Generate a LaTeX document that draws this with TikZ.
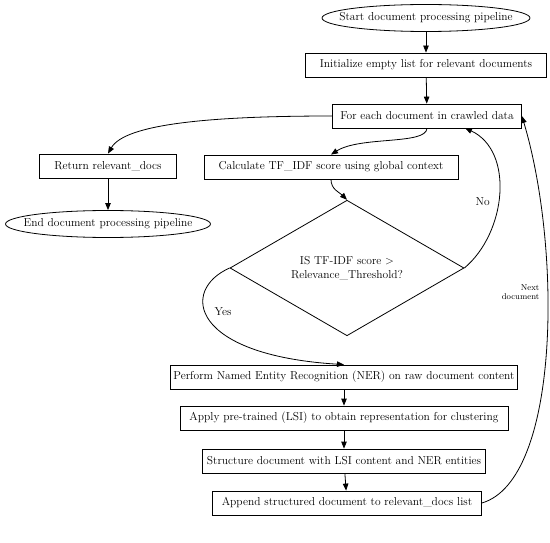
\documentclass[tikz,border=0pt]{standalone}
\usepackage{tikz}
\usetikzlibrary{shapes.geometric,arrows.meta}

\tikzset{
    proc/.style={draw, rectangle, minimum height=24pt, inner xsep=3pt, font=\fontsize{11.5}{13}\selectfont},
    term/.style={draw, ellipse, minimum height=27pt, inner xsep=-14pt, inner ysep=2pt, font=\fontsize{11.5}{13}\selectfont},
    decide/.style={draw, diamond, minimum width=234pt, minimum height=133pt, inner sep=0pt, align=center, font=\fontsize{11.5}{14}\selectfont},
    flow/.style={-{Triangle[length=7pt,width=5.5pt]}},
    lbl/.style={font=\fontsize{11.5}{13}\selectfont},
}

\begin{document}
\begin{tikzpicture}[x=1pt, y=-1pt, line width=0.8pt]
        \useasboundingbox (0,0) rectangle (550,543);
        %nodes
            \node[term, minimum width=208pt] (start) at (426,18) {Start document processing pipeline};
            \node[proc, minimum width=241pt] (init) at (426,65) {Initialize empty list for relevant documents};
            \node[proc, minimum width=189pt] (each) at (427,116) {For each document in crawled data};
            \node[proc, minimum width=137pt] (ret) at (108,166) {Return relevant\_docs};
            \node[term, minimum width=205pt] (stop) at (108,224) {End document processing pipeline};
            \node[proc, minimum width=254pt] (tfidf) at (331,167) {Calculate TF\_IDF score using global context};
            \node[decide] (check) at (347,268) {IS TF-IDF score >\\Relevance\_Threshold?};
            \node[proc, minimum width=347pt] (ner) at (344,377) {Perform Named Entity Recognition (NER) on raw document content};
            \node[proc, minimum width=328pt] (lsi) at (344,418) {Apply pre-trained (LSI) to obtain representation for clustering};
            \node[proc, minimum width=283pt] (struct) at (344,461) {Structure document with LSI content and NER entities};
            \node[proc, minimum width=269pt] (append) at (347,503) {Append structured document to relevant\_docs list};
            \coordinate (eachin) at (465,128);
        % lines
            \draw[flow] (start) -- (init);
            \draw[flow] (init) -- (each);
            \draw[flow] (each.west) .. controls (210,116) and (125,124) .. (ret.north);
            \draw[flow] (ret) -- (stop);
            \draw[flow] (each.south) .. controls (426,145) and (360,136) .. (tfidf.north);
            \draw[flow] (tfidf.south) to[out=-90, in=135] (check.north);
            \draw[flow] (check.east) to[out=40, in=-25] node[lbl, pos=0.45, left=5pt] {No} (eachin);
            \draw[flow] (check.west) .. controls (180,290) and (190,355) .. node[lbl, pos=0.42, right=6pt] {Yes} (ner.north);
            \draw[flow] (ner) -- (lsi);
            \draw[flow] (lsi) -- (struct);
            \draw[flow] (struct) -- (append);
            \draw[flow] (append.east) .. controls (560,480) and (562,250) .. (each.east);
            \node[font=\fontsize{8.5}{9}\selectfont, align=right, anchor=east] (nextlbl) at (543,292) {Next\\document};
\end{tikzpicture}
\end{document}
